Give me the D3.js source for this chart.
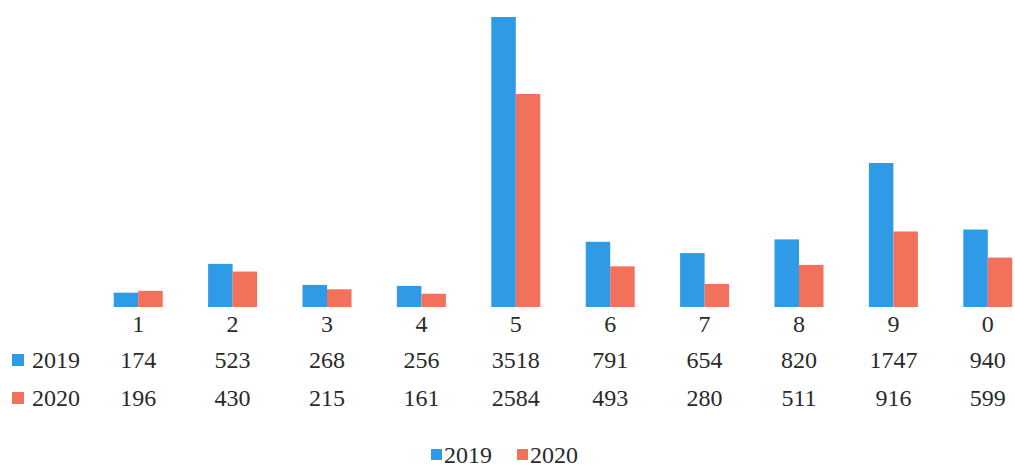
<!DOCTYPE html>
<html><head><meta charset="utf-8">
<script src="https://cdn.jsdelivr.net/npm/d3@7/dist/d3.min.js"></script>
<style>body{margin:0;background:#fff}svg{display:block}</style>
</head><body>
<script>
const categories = ["1","2","3","4","5","6","7","8","9","0"];
const seriesNames = ["2019","2020"];
const values2019 = [174,523,268,256,3518,791,654,820,1747,940];
const values2020 = [196,430,215,161,2584,493,280,511,916,599];
const colors = ["#2f9be6","#f2715a"];

const W=1015,H=467;
const svg=d3.select("body").append("svg").attr("width",W).attr("height",H)
  .attr("font-family","Liberation Serif").style("font-family",'"Liberation Serif"');
function styleText(sel){
  return sel.attr("font-family","Liberation Serif").attr("font-size",24)
    .style("font-family",'"Liberation Serif"').style("font-size","24px").style("fill","#2a2a2a");
}

const x=d3.scaleBand().domain(categories).range([91,1035]).paddingInner(0).paddingOuter(0);
const y=d3.scaleLinear().domain([0,3518]).range([307,17]);
const barW=24.5;
const inner=d3.scaleBand().domain(seriesNames).range([0,barW*2]);
const series=[values2019,values2020];

series.forEach((vals,si)=>{
  svg.append("g").selectAll("rect").data(vals).join("rect")
    .attr("x",(d,i)=>x(categories[i])+x.bandwidth()/2-barW+inner(seriesNames[si]))
    .attr("y",d=>y(d))
    .attr("width",inner.bandwidth())
    .attr("height",d=>y(0)-y(d))
    .attr("fill",colors[si]);
});

// category labels
styleText(svg.append("g").selectAll("text").data(categories).join("text")
  .attr("x",d=>x(d)+x.bandwidth()/2).attr("y",332)
  .attr("text-anchor","middle").text(d=>d));

// table rows
const rowY=[368,406];
series.forEach((vals,si)=>{
  styleText(svg.append("g").selectAll("text").data(vals).join("text")
    .attr("x",(d,i)=>x(categories[i])+x.bandwidth()/2).attr("y",rowY[si])
    .attr("text-anchor","middle").text(d=>String(d)));
  svg.append("rect").attr("x",12).attr("y",rowY[si]-14).attr("width",12).attr("height",12).attr("fill",colors[si]);
  styleText(svg.append("text").attr("x",32).attr("y",rowY[si]).text(seriesNames[si]));
});

// legend
const legX=[431,517];
seriesNames.forEach((n,si)=>{
  svg.append("rect").attr("x",legX[si]).attr("y",449).attr("width",11).attr("height",11).attr("fill",colors[si]);
  styleText(svg.append("text").attr("x",legX[si]+13).attr("y",463).text(n));
});
</script>
</body></html>
